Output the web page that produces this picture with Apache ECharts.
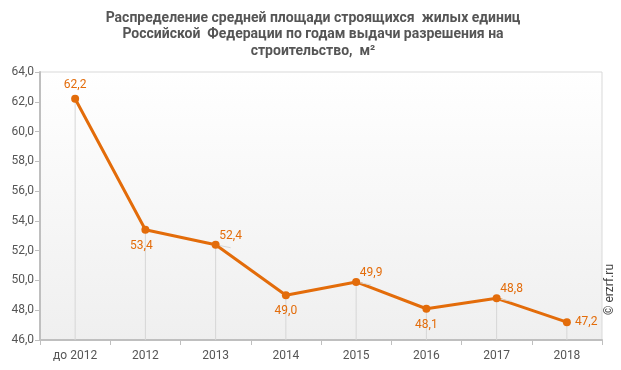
<!DOCTYPE html>
<html>
<head>
<meta charset="utf-8">
<script src="https://cdn.jsdelivr.net/npm/echarts@6/dist/echarts.min.js"></script>
<style>html,body{margin:0;padding:0;background:#fff}#c{width:621px;height:370px}</style>
</head>
<body>
<div id="c"></div>
<script>
const categories = ['до 2012', '2012', '2013', '2014', '2015', '2016', '2017', '2018'];
const values = [62.2, 53.4, 52.4, 49.0, 49.9, 48.1, 48.8, 47.2];
const labelPlacement = ['top', 'bottomLeft', 'topRight', 'bottom', 'topRight', 'bottom', 'topRight', 'right'];
const titleText = 'Распределение средней площади строящихся  жилых единиц\nРоссийской  Федерации по годам выдачи разрешения на\nстроительство,  м²';

const orange = '#E36C0A';
function labelFor(p) {
  switch (p) {
    case 'top': return { position: 'top', distance: 4 };
    case 'bottom': return { position: 'bottom', distance: 6 };
    case 'bottomLeft': return { position: 'bottom', distance: 6, offset: [-4, 0] };
    case 'right': return { position: 'right', distance: 4 };
    case 'topRight': return { position: 'top', distance: 2, offset: [15, 3] };
  }
}
const lineData = values.map((v, i) => {
  const l = labelFor(labelPlacement[i]);
  const item = { value: v, label: l };
  if (labelPlacement[i] === 'topRight') {
    item.labelLine = { show: true, lineStyle: { color: '#d8d8d8', width: 1 } };
  }
  return item;
});

const chart = echarts.init(document.getElementById('c'), null, { renderer: 'canvas' });
chart.setOption({
  animation: false,
  backgroundColor: '#fff',
  title: {
    text: titleText,
    left: 308, top: 5, textAlign: 'center',
    textStyle: { fontFamily: 'Roboto', fontWeight: 'bold', fontSize: 14, color: '#555', lineHeight: 16.5 }
  },
  graphic: [{
    type: 'text',
    left: 604, top: 264,
    rotation: Math.PI / 2,
    style: { text: '© erzrf.ru', fontFamily: 'Roboto', fontSize: 12, fill: '#444' }
  }],
  grid: {
    left: 40, right: 19, top: 72, bottom: 30,
    show: true,
    borderColor: '#d9d9d9', borderWidth: 1,
    backgroundColor: new echarts.graphic.LinearGradient(0, 0, 0, 1, [
      { offset: 0, color: '#ffffff' }, { offset: 1, color: '#efefef' }
    ])
  },
  xAxis: {
    type: 'category',
    data: categories,
    boundaryGap: true,
    axisLine: { lineStyle: { color: '#bfbfbf', width: 2 } },
    axisTick: { show: true, length: 5, lineStyle: { color: '#bfbfbf' } },
    axisLabel: { color: '#555', fontFamily: 'Roboto', fontSize: 12, margin: 10 },
    splitLine: { show: false }
  },
  yAxis: {
    type: 'value',
    min: 46, max: 64, interval: 2,
    axisLine: { show: true, lineStyle: { color: '#bfbfbf', width: 2 } },
    axisTick: { show: true, length: 5, lineStyle: { color: '#bfbfbf' } },
    axisLabel: {
      color: '#555', fontFamily: 'Roboto', fontSize: 12, margin: 6,
      formatter: v => v.toFixed(1).replace('.', ',')
    },
    splitLine: { show: false }
  },
  series: [
    {
      type: 'bar',
      data: values,
      barWidth: 1,
      silent: true,
      itemStyle: { color: '#d6d6d6' },
      z: 1
    },
    {
      type: 'line',
      data: lineData,
      symbol: 'circle',
      symbolSize: 8,
      lineStyle: { color: orange, width: 3 },
      itemStyle: { color: orange },
      label: {
        show: true, color: orange, fontFamily: 'Roboto', fontSize: 12,
        formatter: p => p.value.toFixed(1).replace('.', ',')
      },
      z: 3
    }
  ]
});
</script>
</body>
</html>
